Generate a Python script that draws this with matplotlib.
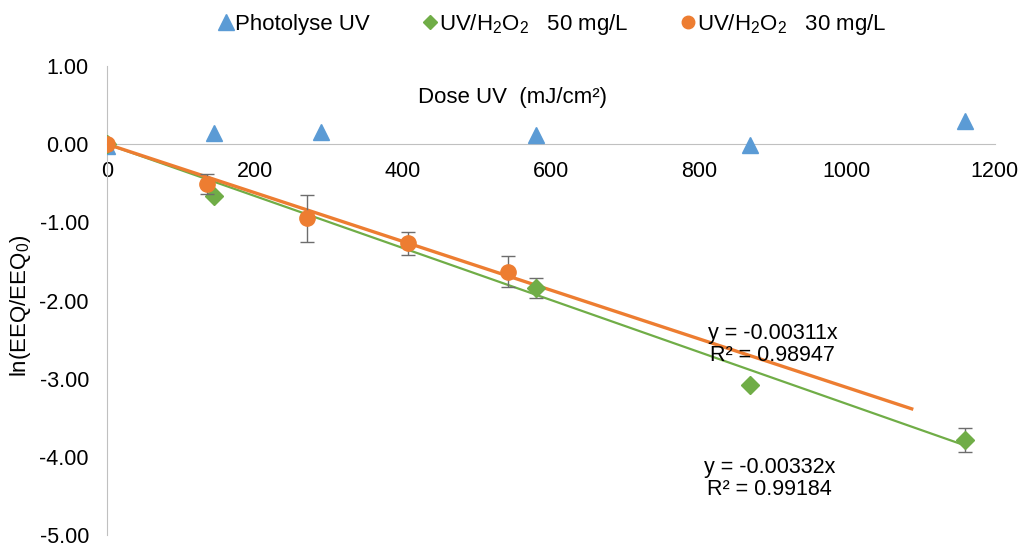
import matplotlib.pyplot as plt
from matplotlib.lines import Line2D

plt.rcParams['font.family'] = ['Liberation Sans', 'DejaVu Sans']
plt.rcParams['mathtext.fontset'] = 'custom'
plt.rcParams['mathtext.rm'] = 'Liberation Sans'
plt.rcParams['mathtext.it'] = 'Liberation Sans'

# photolyse UV
dose_photo = [0, 145, 290, 580, 870, 1160]
ln_photo = [-0.02, 0.14, 0.16, 0.12, -0.01, 0.30]

# UV/H2O2 50 mg/L
dose_50 = [0, 145, 580, 870, 1160]
ln_50 = [0.0, -0.66, -1.84, -3.08, -3.78]
err_50 = [0.0, 0.0, 0.13, 0.0, 0.15]
slope_50 = -0.00332
r2_50 = 0.99184

# UV/H2O2 30 mg/L
dose_30 = [0, 135, 270, 407, 542]
ln_30 = [0.0, -0.51, -0.95, -1.27, -1.63]
err_30 = [0.0, 0.13, 0.30, 0.15, 0.20]
slope_30 = -0.00311
r2_30 = 0.98947
trend_end_30 = 1088

blue = '#5B9BD5'
green = '#70AD47'
orange = '#ED7D31'

fig = plt.figure(figsize=(10.19, 5.49), dpi=100)
ax = fig.add_axes([0.105, 0.025, 0.871, 0.855])
ax.set_xlim(0, 1200)
ax.set_ylim(-5, 1)

# trend lines
ax.plot([0, dose_50[-1]], [0, slope_50 * dose_50[-1]], color=green, lw=1.6, zorder=2)
ax.plot([0, trend_end_30], [0, slope_30 * trend_end_30], color=orange, lw=2.4, zorder=3)

# points
ax.plot(dose_photo, ln_photo, '^', color=blue, ms=12, zorder=4)
ax.errorbar(dose_50, ln_50, yerr=err_50, fmt='D', color=green, ms=9,
            ecolor='#6d6d6d', elinewidth=1, capsize=5, zorder=5)
ax.errorbar(dose_30, ln_30, yerr=err_30, fmt='o', color=orange, ms=11,
            ecolor='#6d6d6d', elinewidth=1, capsize=5, zorder=6)

ax.text(900, -2.56, 'y = %.5fx\nR² = %.5f' % (slope_30, r2_30),
        ha='center', va='center', fontsize=15.5, linespacing=1.05)
ax.text(896, -4.27, 'y = %.5fx\nR² = %.5f' % (slope_50, r2_50),
        ha='center', va='center', fontsize=15.5, linespacing=1.05)

# axes styling
for s in ['top', 'right']:
    ax.spines[s].set_visible(False)
ax.spines['bottom'].set_position(('data', 0))
ax.spines['bottom'].set_color('#c0c0c0')
ax.spines['left'].set_color('#c0c0c0')
ax.set_xticks(range(0, 1201, 200))
ax.set_yticks(range(-5, 2))
ax.set_yticklabels(['%.2f' % v for v in range(-5, 2)])
ax.tick_params(axis='x', length=0, pad=12, labelsize=15.5)
ax.tick_params(axis='y', length=0, pad=13, labelsize=15.5)

ax.text(548, 0.59, 'Dose UV  (mJ/cm²)', ha='center', va='center', fontsize=16)
fig.text(0.02, 0.443, 'ln(EEQ/EEQ$_0$)', rotation=90, ha='center', va='center', fontsize=16)

handles = [
    Line2D([], [], ls='none', marker='^', color=blue, ms=12),
    Line2D([], [], ls='none', marker='D', color=green, ms=7),
    Line2D([], [], ls='none', marker='o', color=orange, ms=9),
]
labels = ['Photolyse UV', 'UV/H$_2$O$_2$   50 mg/L', 'UV/H$_2$O$_2$   30 mg/L']
fig.legend(handles, labels, loc='center', bbox_to_anchor=(0.543, 0.955), ncol=3,
           frameon=False, fontsize=16, handlelength=0.6, handletextpad=0.1,
           columnspacing=2.4)

fig.savefig('out.png', dpi=100)
